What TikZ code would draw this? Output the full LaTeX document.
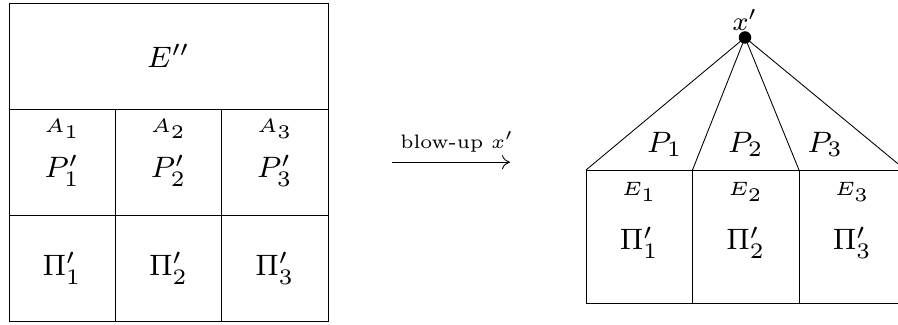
\documentclass[tikz,border=0pt]{standalone}
\usepackage{amsmath}
\usepackage{tikz}
\usetikzlibrary{arrows.meta, positioning}

\begin{document}
\begin{tikzpicture}[
      cell/.style={rectangle, draw, line width=0.5pt, minimum width=2.127cm, minimum height=2.127cm, inner sep=0pt, outer sep=0pt},
      wide/.style={cell, minimum width=6.38cm, minimum height=2.12cm},
      tall/.style={cell, minimum width=2.13cm, minimum height=2.66cm},
      big/.style={inner sep=0pt, font=\footnotesize, scale=2.1, transform shape},
      small/.style={inner sep=0pt, font=\tiny, scale=2.2, transform shape},
      dot/.style={circle, fill, inner sep=0pt, minimum size=0.25cm},
      edge/.style={line width=0.5pt},
      mapto/.style={-{To[length=1.6mm, width=2.8mm]}, line width=0.5pt},
  ]
  \path[use as bounding box, clip] (0,0) rectangle (17.96,-6.5);

  % Left grid
  \node[wide] (e) at (3.37,-1.12) {};
  \node[cell, below right=0pt and 0pt of e.south west] (p1) {};
  \node[cell, right=0pt of p1] (p2) {};
  \node[cell, right=0pt of p2] (p3) {};
  \node[cell, below=0pt of p1] (q1) {};
  \node[cell, below=0pt of p2] (q2) {};
  \node[cell, below=0pt of p3] (q3) {};

  \node[big] (ee) at (e.center) {$E''$};
  \node[small] (a1) at ([yshift=-0.4cm]p1.north) {$A_1$};
  \node[small] (a2) at ([yshift=-0.4cm]p2.north) {$A_2$};
  \node[small] (a3) at ([yshift=-0.4cm]p3.north) {$A_3$};
  \node[big] (pp1) at ([yshift=-0.17cm]p1.center) {$P'_1$};
  \node[big] (pp2) at ([yshift=-0.17cm]p2.center) {$P'_2$};
  \node[big] (pp3) at ([yshift=-0.17cm]p3.center) {$P'_3$};
  \node[big] (qq1) at (q1.center) {$\Pi'_1$};
  \node[big] (qq2) at (q2.center) {$\Pi'_2$};
  \node[big] (qq3) at (q3.center) {$\Pi'_3$};

  % Right picture
  \node[tall, anchor=north west] (c1) at (11.72,-3.4) {};
  \node[tall, right=0pt of c1] (c2) {};
  \node[tall, right=0pt of c2] (c3) {};
  \node[dot] (x) at (14.9,-0.75) {};
  \node[big, scale=0.9, above=0.1pt of x] (xl) {$x'$};

  \node[small] (e1) at ([yshift=-0.44cm]c1.north) {$E_1$};
  \node[small] (e2) at ([yshift=-0.44cm]c2.north) {$E_2$};
  \node[small] (e3) at ([yshift=-0.44cm]c3.north) {$E_3$};
  \node[big] (r1) at ([yshift=-0.13cm]c1.center) {$\Pi'_1$};
  \node[big] (r2) at ([yshift=-0.13cm]c2.center) {$\Pi'_2$};
  \node[big] (r3) at ([yshift=-0.13cm]c3.center) {$\Pi'_3$};

  \node[big] (t1) at ([xshift=0.51cm, yshift=0.51cm]c1.north) {$P_1$};
  \node[big] (t2) at ([yshift=0.51cm]c2.north) {$P_2$};
  \node[big] (t3) at ([xshift=-0.54cm, yshift=0.51cm]c3.north) {$P_3$};

  \draw[edge] (x.center) -- (c1.north west);
  \draw[edge] (x.center) -- (c1.north east);
  \draw[edge] (x.center) -- (c2.north east);
  \draw[edge] (x.center) -- (c3.north east);

  % Blow-up arrow
  \draw[mapto, shorten <=1.28cm, shorten >=1.52cm] (p3.east) -- node[above=5pt, inner sep=0pt, font=\fontsize{6}{7}\selectfont, scale=1.85, transform shape] (bl) {blow-up $x'$} (p3.east -| c1.west);

  \end{tikzpicture}
\end{document}
